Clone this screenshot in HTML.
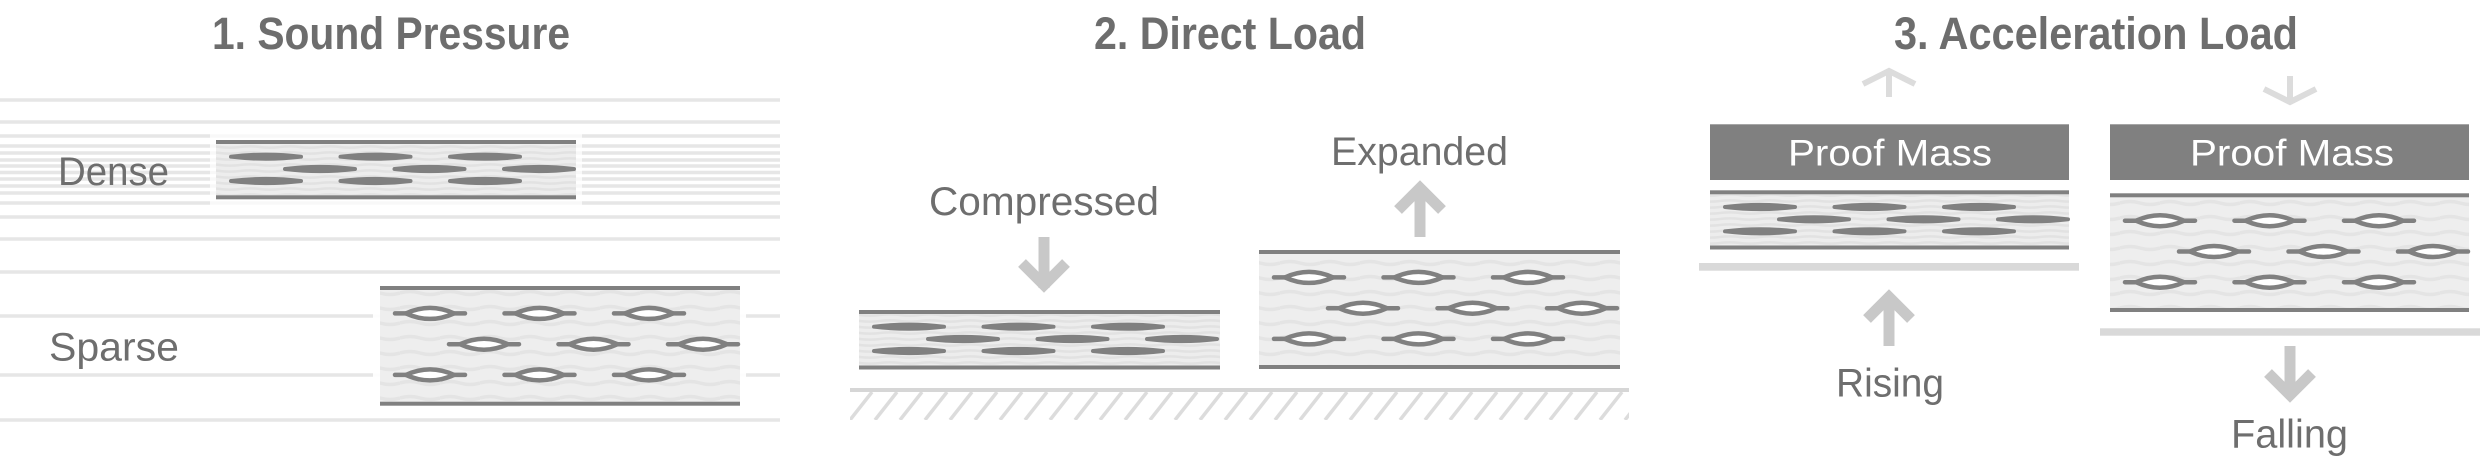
<!DOCTYPE html>
<html>
<head>
<meta charset="utf-8">
<style>
  html,body{margin:0;padding:0;background:#fff;}
  svg{display:block;}
  .t{font-family:"Liberation Sans",Arial,sans-serif;font-weight:bold;font-size:45px;fill:#6d6d6d;}
  .l{font-family:"Liberation Sans",Arial,sans-serif;font-size:40px;fill:#6e6e6e;}
  .pm{font-family:"Liberation Sans",Arial,sans-serif;font-size:37px;fill:#ffffff;}
</style>
</head>
<body>
<svg width="2480" height="470" viewBox="0 0 2480 470" xmlns="http://www.w3.org/2000/svg">
  <defs>
    <pattern id="wd" patternUnits="userSpaceOnUse" x="0" y="0" width="40" height="6">
      <rect x="0" y="0" width="40" height="6" fill="#ededed"/>
      <path d="M0,3 Q10,1.8 20,3 T40,3" fill="none" stroke="#e2e2e2" stroke-width="2.5"/>
    </pattern>
    <pattern id="ws" patternUnits="userSpaceOnUse" x="0" y="0.5" width="40" height="15">
      <rect x="0" y="0" width="40" height="15" fill="#eeeeee"/>
      <path d="M0,7.5 Q10,4.5 20,7.5 T40,7.5" fill="none" stroke="#e4e4e4" stroke-width="3.5"/>
    </pattern>
    <pattern id="hatch" patternUnits="userSpaceOnUse" x="850" y="392" width="25" height="28">
      <g stroke="#dcdcdc" stroke-width="3.5">
        <line x1="0" y1="28" x2="22" y2="0"/>
        <line x1="-25" y1="28" x2="-3" y2="0"/>
        <line x1="25" y1="28" x2="47" y2="0"/>
      </g>
    </pattern>
    <path id="fe" d="M0,0 Q35,-4.2 70,0 Q35,4.2 0,0Z" fill="#808080" stroke="#808080" stroke-width="4" stroke-linejoin="round" stroke-linecap="round"/>
    <g id="oe">
      <line x1="0" y1="0" x2="14" y2="0" stroke="#808080" stroke-width="4.5" stroke-linecap="round"/>
      <line x1="56" y1="0" x2="70" y2="0" stroke="#808080" stroke-width="4.5" stroke-linecap="round"/>
      <path d="M11,0 Q35,-11 59,0 Q35,11 11,0Z" fill="#ffffff" stroke="#808080" stroke-width="4.5" stroke-linejoin="round"/>
    </g>
    <g id="D9">
      <use href="#fe" x="15" y="16.7"/>
      <use href="#fe" x="124.5" y="16.7"/>
      <use href="#fe" x="234" y="16.7"/>
      <use href="#fe" x="69" y="29"/>
      <use href="#fe" x="178.5" y="29"/>
      <use href="#fe" x="288" y="29"/>
      <use href="#fe" x="15" y="41"/>
      <use href="#fe" x="124.5" y="41"/>
      <use href="#fe" x="234" y="41"/>
    </g>
    <g id="S9">
      <use href="#oe" x="15" y="27.4"/>
      <use href="#oe" x="124.5" y="27.4"/>
      <use href="#oe" x="234" y="27.4"/>
      <use href="#oe" x="69" y="58.2"/>
      <use href="#oe" x="178.5" y="58.2"/>
      <use href="#oe" x="288" y="58.2"/>
      <use href="#oe" x="15" y="88.9"/>
      <use href="#oe" x="124.5" y="88.9"/>
      <use href="#oe" x="234" y="88.9"/>
    </g>
  </defs>

  <rect x="0" y="0" width="2480" height="470" fill="#ffffff"/>

  <!-- Titles -->
  <text class="t" x="212" y="49" textLength="358" lengthAdjust="spacingAndGlyphs">1. Sound Pressure</text>
  <text class="t" x="1094" y="49" textLength="272" lengthAdjust="spacingAndGlyphs">2. Direct Load</text>
  <text class="t" x="1894" y="49" textLength="404" lengthAdjust="spacingAndGlyphs">3. Acceleration Load</text>

  <!-- ===== Panel 1: pressure lines ===== -->
  <g stroke="#e6e6e6" stroke-width="3.5">
    <line x1="0" y1="100" x2="780" y2="100"/>
    <line x1="0" y1="122" x2="780" y2="122"/>
    <line x1="0" y1="136" x2="780" y2="136"/>
    <line x1="0" y1="146" x2="780" y2="146"/>
    <line x1="0" y1="153" x2="780" y2="153"/>
    <line x1="0" y1="160" x2="780" y2="160"/>
    <line x1="0" y1="166" x2="780" y2="166"/>
    <line x1="0" y1="172.5" x2="780" y2="172.5"/>
    <line x1="0" y1="179" x2="780" y2="179"/>
    <line x1="0" y1="186" x2="780" y2="186"/>
    <line x1="0" y1="193" x2="780" y2="193"/>
    <line x1="0" y1="203" x2="780" y2="203"/>
    <line x1="0" y1="217" x2="780" y2="217"/>
    <line x1="0" y1="239" x2="780" y2="239"/>
    <line x1="0" y1="272" x2="780" y2="272"/>
    <line x1="0" y1="316" x2="780" y2="316"/>
    <line x1="0" y1="375" x2="780" y2="375"/>
    <line x1="0" y1="420" x2="780" y2="420"/>
  </g>
  <!-- halos -->
  <rect x="210" y="133" width="372" height="72" fill="#ffffff" opacity="0.72"/>
  <rect x="373" y="278" width="373" height="137" fill="#ffffff" opacity="0.9"/>

  <!-- Dense box -->
  <rect x="216" y="144" width="360" height="51.3" fill="url(#wd)"/>
  <rect x="216" y="140" width="360" height="4" fill="#808080"/>
  <rect x="216" y="195.3" width="360" height="4" fill="#808080"/>
  <use href="#D9" x="216" y="140"/>

  <!-- Sparse box -->
  <rect x="380" y="290" width="360" height="111.7" fill="url(#ws)"/>
  <rect x="380" y="286" width="360" height="4" fill="#808080"/>
  <rect x="380" y="401.7" width="360" height="4" fill="#808080"/>
  <use href="#S9" x="380" y="286"/>

  <text class="l" x="58" y="185" textLength="111" lengthAdjust="spacingAndGlyphs">Dense</text>
  <text class="l" x="49" y="360.5" textLength="130" lengthAdjust="spacingAndGlyphs">Sparse</text>

  <!-- ===== Panel 2 ===== -->
  <rect x="850" y="392" width="779" height="28" fill="url(#hatch)"/>
  <rect x="850" y="388" width="779" height="4" fill="#d6d6d6"/>

  <!-- compressed -->
  <rect x="859" y="314" width="361" height="51.5" fill="url(#wd)"/>
  <rect x="859" y="310" width="361" height="4" fill="#808080"/>
  <rect x="859" y="365.5" width="361" height="4" fill="#808080"/>
  <use href="#D9" x="859" y="310"/>

  <!-- expanded -->
  <rect x="1259" y="254" width="361" height="111" fill="url(#ws)"/>
  <rect x="1259" y="250" width="361" height="4" fill="#808080"/>
  <rect x="1259" y="365" width="361" height="4" fill="#808080"/>
  <use href="#S9" x="1259" y="250"/>

  <text class="l" x="929" y="215" textLength="230" lengthAdjust="spacingAndGlyphs">Compressed</text>
  <text class="l" x="1331" y="165" textLength="177" lengthAdjust="spacingAndGlyphs">Expanded</text>

  <!-- thick arrows -->
  <g stroke="#c8c8c8" stroke-width="11" fill="none" stroke-linejoin="miter" stroke-linecap="butt">
    <line x1="1044" y1="237" x2="1044" y2="288"/>
    <polyline points="1022,263 1044,285 1066,263"/>
    <line x1="1420" y1="190" x2="1420" y2="237"/>
    <polyline points="1398,210 1420,188 1442,210"/>
    <line x1="1889" y1="299" x2="1889" y2="346"/>
    <polyline points="1867,319 1889,297 1911,319"/>
    <line x1="2290" y1="346" x2="2290" y2="393"/>
    <polyline points="2268,373 2290,395 2312,373"/>
  </g>

  <!-- ===== Panel 3 ===== -->
  <g stroke="#dcdcdc" stroke-width="6" fill="none" stroke-linejoin="miter">
    <line x1="1889" y1="73" x2="1889" y2="97"/>
    <polyline points="1863,84 1889,71 1915,84"/>
    <line x1="2290" y1="76" x2="2290" y2="100"/>
    <polyline points="2264,89 2290,102 2316,89"/>
  </g>

  <!-- left proof mass -->
  <rect x="1710" y="124.3" width="359" height="55.7" fill="#808080"/>
  <text class="pm" x="1788" y="165.7" textLength="204" lengthAdjust="spacingAndGlyphs">Proof Mass</text>
  <rect x="1710" y="194.3" width="359" height="51.2" fill="url(#wd)"/>
  <rect x="1710" y="190.3" width="359" height="4" fill="#808080"/>
  <rect x="1710" y="245.5" width="359" height="4" fill="#808080"/>
  <use href="#D9" x="1710" y="190.3"/>
  <rect x="1699" y="263" width="380" height="7.7" fill="#d9d9d9"/>
  <text class="l" x="1836" y="396.7" textLength="108" lengthAdjust="spacingAndGlyphs">Rising</text>

  <!-- right proof mass -->
  <rect x="2110" y="124.3" width="359" height="55.7" fill="#808080"/>
  <text class="pm" x="2190" y="165.7" textLength="204" lengthAdjust="spacingAndGlyphs">Proof Mass</text>
  <rect x="2110" y="197.3" width="359" height="110.7" fill="url(#ws)"/>
  <rect x="2110" y="193.3" width="359" height="4" fill="#808080"/>
  <rect x="2110" y="308" width="359" height="4" fill="#808080"/>
  <use href="#S9" x="2110" y="193.3"/>
  <rect x="2100" y="328.3" width="380" height="7.4" fill="#d9d9d9"/>
  <text class="l" x="2231" y="447.7" textLength="117" lengthAdjust="spacingAndGlyphs">Falling</text>
</svg>
</body>
</html>
